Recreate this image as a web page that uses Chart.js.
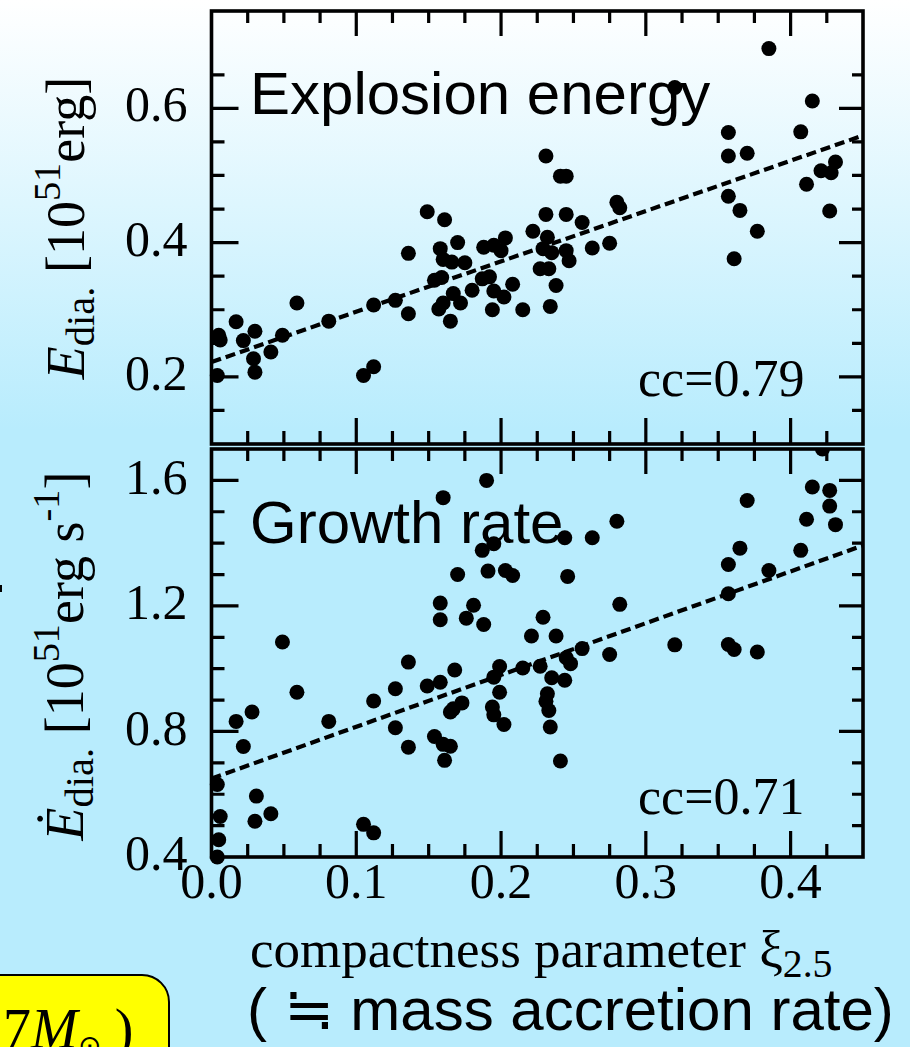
<!DOCTYPE html>
<html>
<head>
<meta charset="utf-8">
<script src="https://cdn.jsdelivr.net/npm/chart.js@4.4.1/dist/chart.umd.min.js"></script>
<style>
  body { margin: 0; }
  #stage {
    position: relative; width: 910px; height: 1047px; overflow: hidden;
    background: linear-gradient(to bottom, #ffffff 0px, #b8ecfd 430px, #b8ecfd 100%);
  }
  #stage canvas { position: absolute; left: 0; top: 0; }
  .serif { font-family: "Liberation Serif", "Times New Roman", serif; }
  .sans { font-family: "Liberation Sans", Arial, sans-serif; }
  .lbl { position: absolute; white-space: nowrap; line-height: 1; color: #000; }
  .ytitle {
    position: absolute; white-space: nowrap; line-height: 1; font-size: 54px;
    transform: translate(-50%, -50%) rotate(-90deg);
  }
  .sb { font-size: 0.75em; position: relative; top: 0.25em; }
  .sp { font-size: 0.71em; position: relative; top: -0.62em; }
  #ybox {
    position: absolute; left: -40px; top: 974px; width: 206px; height: 120px;
    background: #ffff00; border: 2px solid #000; border-radius: 28px;
  }
</style>
</head>
<body>
<div id="stage">
  <div class="ytitle serif" style="left:66px; top:228px;"><i>E</i><span class="sb">dia.</span> [10<span class="sp">51</span>erg]</div>
  <div class="ytitle serif" style="left:65px; top:656px;"><i>Ė</i><span class="sb">dia.</span> [10<span class="sp">51</span>erg s<span class="sp">-1</span>]</div>
  <div style="position:absolute; left:0; top:585px; width:2px; height:7px; background:#000;"></div>

  <div class="lbl sans" style="left:250px; top:64px; font-size:60px;">Explosion energy</div>
  <div class="lbl sans" style="left:250px; top:493px; font-size:60px;">Growth rate</div>
  <div class="lbl serif" style="left:638px; top:353px; font-size:52px;">cc=0.79</div>
  <div class="lbl serif" style="left:638px; top:771px; font-size:52px;">cc=0.71</div>

  <div class="lbl serif" style="left:250px; top:923px; font-size:53px;">compactness parameter ξ<span class="sb">2.5</span></div>
  <div class="lbl sans" style="left:247px; top:980px; font-size:60px;">( ≒ mass accretion rate)</div>

  <div id="ybox"></div>
  <div class="lbl serif" style="left:3px; top:1001px; font-size:56px;">7<i>M</i><span class="sb" style="font-size:0.5em">⊙</span> )</div>

  <canvas id="energyChart" width="910" height="1047"></canvas>
  <canvas id="growthChart" width="910" height="1047"></canvas>
</div>

<script>
// Compactness parameter (x) and diagnostic explosion energy [1e51 erg]
const energyXi = [
  0.005, 0.006, 0.004, 0.017, 0.022, 0.030, 0.029, 0.030, 0.041, 0.049,
  0.059, 0.081, 0.105, 0.112, 0.112, 0.127, 0.136, 0.136, 0.149, 0.161,
  0.158, 0.160, 0.166, 0.170, 0.175, 0.154, 0.159, 0.167, 0.172, 0.180,
  0.157, 0.160, 0.165, 0.188, 0.195, 0.200, 0.203, 0.187, 0.192, 0.195,
  0.202, 0.208, 0.194, 0.215, 0.222, 0.231, 0.241, 0.245, 0.231, 0.245,
  0.256, 0.232, 0.229, 0.235, 0.245, 0.247, 0.227, 0.233, 0.238, 0.234,
  0.263, 0.275, 0.280, 0.282, 0.320, 0.385, 0.357, 0.357, 0.370, 0.357,
  0.365, 0.377, 0.361, 0.415, 0.407, 0.411, 0.421, 0.428, 0.431, 0.427
];
const energyE = [
  0.262, 0.255, 0.202, 0.282, 0.254, 0.268, 0.227, 0.207, 0.237, 0.262,
  0.310, 0.283, 0.202, 0.215, 0.307, 0.314, 0.294, 0.384, 0.446, 0.434,
  0.391, 0.375, 0.371, 0.400, 0.370, 0.344, 0.348, 0.324, 0.310, 0.329,
  0.301, 0.310, 0.283, 0.393, 0.396, 0.388, 0.407, 0.346, 0.349, 0.328,
  0.319, 0.338, 0.300, 0.300, 0.417, 0.529, 0.499, 0.499, 0.442, 0.442,
  0.430, 0.408, 0.391, 0.385, 0.388, 0.373, 0.361, 0.361, 0.336, 0.305,
  0.392, 0.399, 0.460, 0.452, 0.631, 0.689, 0.564, 0.529, 0.533, 0.469,
  0.448, 0.417, 0.376, 0.611, 0.565, 0.487, 0.507, 0.504, 0.520, 0.447
];

// Compactness parameter (x) and energy growth rate [1e51 erg/s]
const growthXi = [
  0.004, 0.005, 0.006, 0.004, 0.017, 0.022, 0.028, 0.031, 0.030, 0.041,
  0.049, 0.059, 0.081, 0.105, 0.112, 0.112, 0.127, 0.127, 0.136, 0.136,
  0.149, 0.158, 0.168, 0.154, 0.160, 0.165, 0.161, 0.167, 0.173, 0.165,
  0.158, 0.158, 0.160, 0.170, 0.176, 0.181, 0.188, 0.190, 0.187, 0.195,
  0.191, 0.203, 0.208, 0.195, 0.199, 0.199, 0.194, 0.195, 0.202, 0.215,
  0.221, 0.229, 0.238, 0.244, 0.263, 0.280, 0.246, 0.282, 0.256, 0.275,
  0.227, 0.245, 0.248, 0.235, 0.244, 0.232, 0.231, 0.233, 0.234, 0.241,
  0.320, 0.357, 0.365, 0.357, 0.357, 0.361, 0.377, 0.370, 0.385, 0.407,
  0.411, 0.415, 0.427, 0.427, 0.431, 0.422
];
const growthRate = [
  0.400, 0.455, 0.529, 0.631, 0.832, 0.752, 0.862, 0.594, 0.514, 0.538,
  1.085, 0.925, 0.832, 0.504, 0.477, 0.897, 0.936, 0.812, 1.021, 0.750,
  0.945, 0.957, 0.996, 0.784, 0.759, 0.753, 0.708, 0.872, 0.891, 0.862,
  1.209, 1.156, 1.545, 1.300, 1.161, 1.202, 1.141, 1.600, 1.377, 1.398,
  1.311, 1.313, 1.297, 0.973, 1.007, 0.925, 0.878, 0.853, 0.822, 1.002,
  1.104, 1.164, 1.104, 1.417, 1.417, 1.470, 1.294, 1.205, 1.064, 1.045,
  1.008, 1.035, 1.016, 0.971, 0.963, 0.920, 0.896, 0.867, 0.814, 0.706,
  1.076, 1.332, 1.384, 1.239, 1.077, 1.061, 1.053, 1.536, 1.313, 1.377,
  1.476, 1.579, 1.568, 1.518, 1.459, 1.700
];

// Linear fits [intercept, slope] as drawn
const energyFit = [0.222, 0.75];
const growthFit = [0.65, 1.65];

// Axis ranges and labelled ticks
const xRange = [0, 0.45];
const xMajorTicks = [0.0, 0.1, 0.2, 0.3, 0.4];
const energyRange = [0.1, 0.745];
const energyMajorTicks = [0.2, 0.4, 0.6];
const growthRange = [0.4, 1.7];
const growthMajorTicks = [0.4, 0.8, 1.2, 1.6];

const SERIF = '"Liberation Serif", "Times New Roman", serif';

function isMajor(v, list) {
  return list.some(m => Math.abs(m - v) < 1e-6);
}

function toPoints(xs, ys) {
  return xs.map((x, i) => ({ x: x, y: ys[i] }));
}

function fitLine(fit) {
  return xRange.map(x => ({ x: x, y: fit[0] + fit[1] * x }));
}

// Frame round the plot area plus inward ticks on all four sides
const frameTicks = {
  id: 'frameTicks',
  afterDatasetsDraw(chart, args, opts) {
    const { ctx, chartArea: a, scales } = chart;
    ctx.save();
    ctx.strokeStyle = '#000';
    ctx.lineWidth = 3.2;
    ctx.beginPath();
    scales.x.ticks.forEach(t => {
      const px = scales.x.getPixelForValue(t.value);
      if (px < a.left + 2 || px > a.right - 2) return;
      const big = isMajor(t.value, opts.xMajor);
      ctx.moveTo(px, a.bottom); ctx.lineTo(px, a.bottom - (big ? 26 : 13));
      ctx.moveTo(px, a.top); ctx.lineTo(px, a.top + (big ? 25 : 12));
    });
    scales.y.ticks.forEach(t => {
      const py = scales.y.getPixelForValue(t.value);
      if (py < a.top + 2 || py > a.bottom - 2) return;
      const big = isMajor(t.value, opts.yMajor);
      ctx.moveTo(a.left, py); ctx.lineTo(a.left + (big ? 27 : 13), py);
      ctx.moveTo(a.right, py); ctx.lineTo(a.right - (big ? 24 : 11), py);
    });
    ctx.stroke();
    ctx.lineWidth = 3.6;
    ctx.strokeRect(a.left, a.top, a.right - a.left, a.bottom - a.top);
    ctx.restore();
  }
};

function makePanel(canvasId, xs, ys, fit, yRange, yStep, yMajor, padTop, padBottom, showX) {
  const ctx = document.getElementById(canvasId).getContext('2d');
  return new Chart(ctx, {
    type: 'scatter',
    data: {
      datasets: [
        {
          data: fitLine(fit),
          showLine: true,
          borderColor: '#000',
          borderWidth: 4.2,
          borderDash: [10, 5],
          pointRadius: 0,
          order: 2
        },
        {
          data: toPoints(xs, ys),
          pointRadius: 7.5,
          pointBackgroundColor: '#000',
          pointBorderWidth: 0,
          clip: { left: 12, top: 0, right: 12, bottom: 12 },
          order: 1
        }
      ]
    },
    options: {
      responsive: false,
      animation: false,
      events: [],
      layout: { padding: { top: padTop, right: 47, bottom: padBottom, left: 0 } },
      plugins: {
        legend: { display: false },
        tooltip: { enabled: false },
        frameTicks: { xMajor: xMajorTicks, yMajor: yMajor }
      },
      scales: {
        x: {
          type: 'linear',
          min: xRange[0],
          max: xRange[1],
          grid: { display: false, drawTicks: false },
          border: { display: false },
          afterFit: s => {
            s.height = showX ? 60 : 0;
            s.paddingLeft = 0; s.paddingRight = 0;
          },
          ticks: {
            display: showX,
            stepSize: 0.025,
            autoSkip: false,
            maxRotation: 0,
            padding: 3,
            color: '#000',
            font: { family: SERIF, size: 50, lineHeight: 1 },
            callback: v => isMajor(v, xMajorTicks) ? v.toFixed(1) : ''
          }
        },
        y: {
          type: 'linear',
          min: yRange[0],
          max: yRange[1],
          grid: { display: false, drawTicks: false },
          border: { display: false },
          afterFit: s => {
            s.width = 211.5;
            s.paddingTop = 0; s.paddingBottom = 0;
          },
          ticks: {
            stepSize: yStep,
            autoSkip: false,
            padding: 24,
            color: '#000',
            font: { family: SERIF, size: 50, lineHeight: 1 },
            callback: v => isMajor(v, yMajor) ? v.toFixed(1) : ''
          }
        }
      }
    },
    plugins: [frameTicks]
  });
}

// Top: explosion energy, chart area y 11 .. 444
makePanel('energyChart', energyXi, energyE, energyFit, energyRange, 0.05, energyMajorTicks,
  11, 1047 - 444, false);
// Bottom: growth rate, chart area y 449 .. 857
makePanel('growthChart', growthXi, growthRate, growthFit, growthRange, 0.1, growthMajorTicks,
  449, 1047 - 857 - 60, true);
</script>
</body>
</html>
